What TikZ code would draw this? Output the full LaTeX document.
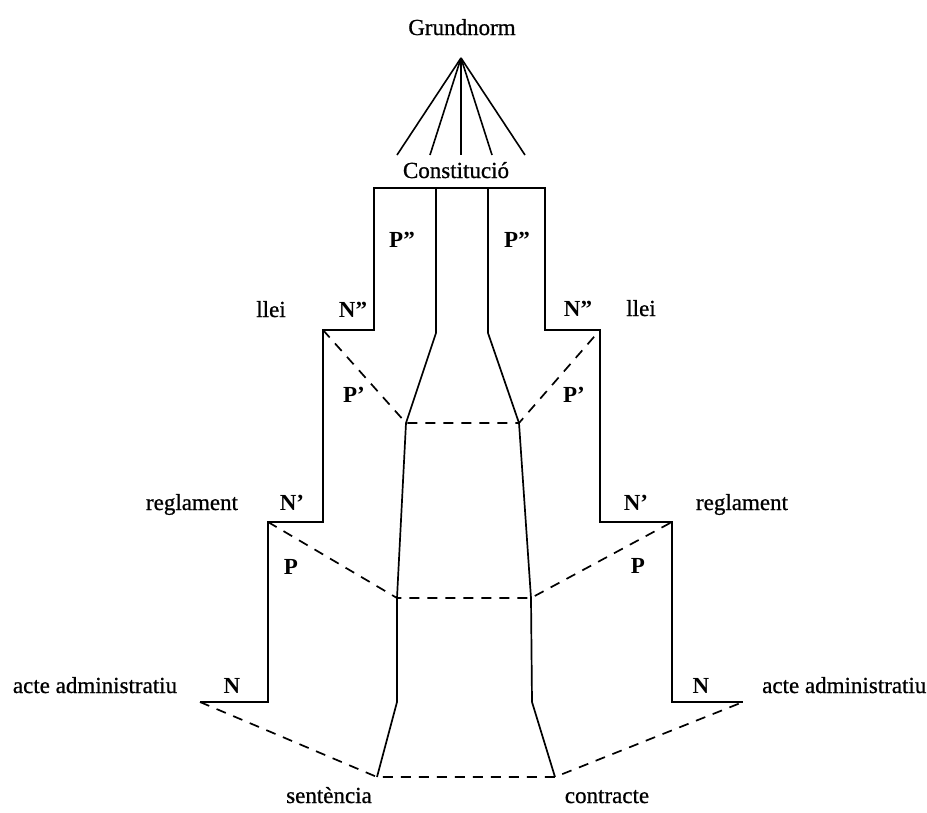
\documentclass[tikz,border=0pt]{standalone}
\usepackage{fontspec}
\setmainfont{Liberation Serif}
\newfontfamily\scanfont[FakeBold=0.8]{Liberation Serif}
\usetikzlibrary{calc}

\tikzset{
  every node/.style={font=\fontsize{23}{27}\selectfont\scanfont, inner sep=0pt, anchor=base},
  tag/.style={font=\fontsize{23}{27}\selectfont\bfseries},
  wall/.style={line width=1.7pt, line join=miter},
  link/.style={line width=1.7pt, dash pattern=on 10pt off 8pt}
}

\begin{document}
\begin{tikzpicture}[x=1pt,y=-1pt]
\useasboundingbox (0,0) rectangle (927,812);
% Apex and fan
\node (grund) at (462,35) {Grundnorm};
\coordinate (apex) at (461,58);
\foreach \x [count=\i] in {397,430,461,492,525}
  \coordinate (fan\i) at (\x,155);
\foreach \i in {1,...,5}
  \draw[line width=1.6pt] (apex) -- (fan\i);
\node (const) at (456,178) {Constitució};
% Outline corners, left
\coordinate (lt) at (374,188);
\coordinate (l1) at (374,330);
\coordinate (l2) at (323,330);
\coordinate (l3) at (323,522);
\coordinate (l4) at (268,522);
\coordinate (l5) at (268,702);
\coordinate (l6) at (200,702);
% Outline corners, right
\coordinate (rt) at (545,188);
\coordinate (r1) at (545,330);
\coordinate (r2) at (600,330);
\coordinate (r3) at (600,522);
\coordinate (r4) at (672,522);
\coordinate (r5) at (672,702);
\coordinate (r6) at (743,702);
% Inner column, left
\coordinate (a0) at (436,188);
\coordinate (a1) at (436,333);
\coordinate (a2) at (406,423);
\coordinate (a3) at (397,598);
\coordinate (a4) at (397,702);
\coordinate (a5) at (377,777);
% Inner column, right
\coordinate (b0) at (488,188);
\coordinate (b1) at (488,333);
\coordinate (b2) at (519,423);
\coordinate (b3) at (531,598);
\coordinate (b4) at (532,702);
\coordinate (b5) at (555,777);
% Draw outline
\draw[wall] (l6) -- (l5) -- (l4) -- (l3) -- (l2) -- (l1) -- (lt) -- (rt)
  -- (r1) -- (r2) -- (r3) -- (r4) -- (r5) -- (r6);
\draw[wall] (a0) -- (a1) -- (a2) -- (a3) -- (a4) -- (a5);
\draw[wall] (b0) -- (b1) -- (b2) -- (b3) -- (b4) -- (b5);
% Draw dashed levels
\draw[link] (l2) -- (a2) -- (b2) -- (r2);
\draw[link] (l4) -- (a3) -- (b3) -- (r4);
\draw[link] (l6) -- (a5) -- (b5) -- (r6);
% Labels
\node[tag] (pl2) at (402,247) {P''};
\node[tag] (pr2) at (517,247) {P''};
\node (lleil) at (271,317) {llei};
\node[tag] (nl2) at (353,317) {N''};
\node[tag] (nr2) at (578,316) {N''};
\node (lleir) at (641,316) {llei};
\node[tag] (pl1) at (354,402) {P'};
\node[tag] (pr1) at (574,402) {P'};
\node (regl) at (192,510) {reglament};
\node[tag] (nl1) at (292,510) {N'};
\node[tag] (nr1) at (636,510) {N'};
\node (regr) at (742,510) {reglament};
\node[tag] (pl0) at (291,574) {P};
\node[tag] (pr0) at (638,573) {P};
\node (actel) at (95,693) {acte administratiu};
\node[tag] (nl0) at (232,693) {N};
\node[tag] (nr0) at (701,693) {N};
\node[anchor=base west] (acter) at (762,693) {acte administratiu};
\node (sent) at (329,803) {sentència};
\node (contr) at (607,803) {contracte};
\end{tikzpicture}
\end{document}
